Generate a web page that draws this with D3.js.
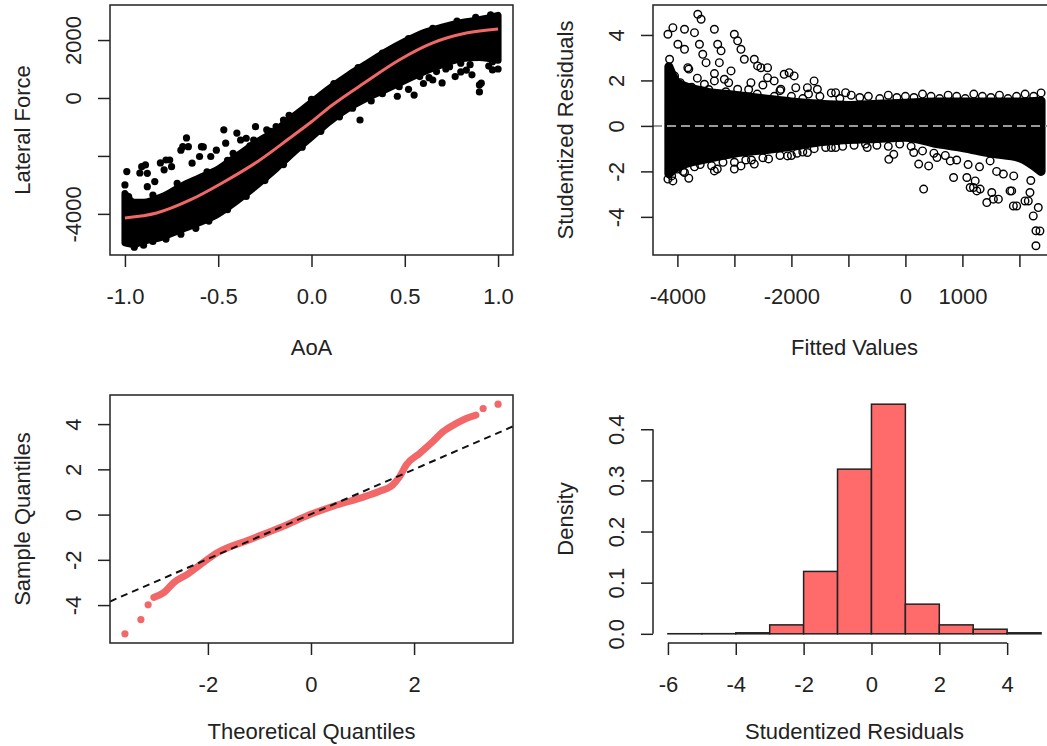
<!doctype html>
<html>
<head>
<meta charset="utf-8"/>
<title>Lateral force model diagnostics</title>
<script src="https://cdnjs.cloudflare.com/ajax/libs/d3/7.8.5/d3.min.js"></script>
<style>
body { margin: 0; background: #fff; }
svg text { font-family: "Liberation Sans", Arial, sans-serif; font-size: 22px; fill: #222; }
</style>
</head>
<body>
<svg width="1047" height="746"></svg>
<script>
// ---- panel 1: AoA vs lateral force (dense cloud as band + loose points) ----
const aoaRange = [-1, 1];
const forceRange = [-5100, 2890];
const aoaTicks = [-1, -0.5, 0, 0.5, 1];
const forceTicks = [-4000, -2000, 0, 2000];
const forceTickLabels = [-4000, 0, 2000];
const bandAoA  = [-1.0, -0.95, -0.9, -0.8, -0.7, -0.6, -0.5, -0.4, -0.3, -0.2, -0.1, 0, 0.1, 0.2, 0.3, 0.4, 0.5, 0.6, 0.7, 0.8, 0.9, 1.0];
const bandLow  = [-5000, -5050, -4950, -4800, -4550, -4300, -4000, -3550, -3050, -2500, -1900, -1350, -800, -350, 0, 300, 600, 900, 1150, 1350, 1400, 1300];
const bandHigh = [-3300, -3600, -3600, -3400, -3050, -2750, -2450, -2000, -1550, -1150, -650, -150, 350, 800, 1200, 1600, 1950, 2250, 2450, 2600, 2700, 2850];
const forceLoose = [
  [-0.99,-2540],[-1.0,-3000],[-0.98,-3400],[-0.91,-2370],[-0.88,-2600],[-0.88,-3060],[-0.84,-2885],
  [-0.79,-2480],[-0.78,-2140],[-0.75,-2370],[-0.70,-1800],[-0.69,-1680],[-0.66,-1680],[-0.64,-2250],
  [-0.59,-1680],[-0.60,-2020],[-0.54,-2020],[-0.51,-1800],[-0.46,-1560],[-0.42,-1910],[-0.38,-1450],
  [-0.35,-1390],[-0.31,-1450],[-0.30,-990],[-0.24,-1100],[-0.19,-990],[-0.15,-760],
  [-0.92,-2590],[-0.89,-2310],[-0.81,-2240],[-0.76,-2140],[-0.67,-1380],[-0.58,-1690],[-0.47,-1100],[-0.40,-1210],
  [0.26,-760],[0.46,60],[0.55,100],[0.60,500],[0.65,620],[0.70,520],[0.77,740],[0.80,900],[0.83,965],
  [0.86,800],[0.90,450],[0.90,210],[0.91,510],[0.97,970],[0.97,1250],[0.47,390],[0.58,740],[0.67,910],
  [0.74,1080],[0.80,1200],[0.40,350],[0.35,250],
  [-0.95,-5150],[-0.9,-5080],[-0.85,-4950],[-0.78,-4870],[-0.7,-4700],[-0.62,-4500],[-0.55,-4250],
  [-0.45,-3850],[-0.35,-3400],[-0.25,-2850],[-0.15,-2300],[-0.05,-1700],[0.05,-1150],[0.15,-650],
  [0.22,-350],[0.32,-100],[0.38,150],[0.52,300],[0.63,700],[0.72,1000],[0.85,1150],[0.95,1100],[1.0,1000],
  [-0.85,-3350],[-0.72,-2950],[-0.56,-2550],[-0.45,-2150],[-0.33,-1650],[-0.22,-1150],[-0.12,-600],
  [0.0,-50],[0.12,500],[0.25,1050],[0.38,1550],[0.52,2050],[0.65,2400],[0.78,2650],[0.88,2780],[0.96,2870]
];
const fitAoA   = [-1, -0.83, -0.65, -0.47, -0.29, -0.12, 0, 0.11, 0.29, 0.47, 0.65, 0.83, 1];
const fitForce = [-4140, -3970, -3520, -2900, -2200, -1400, -820, -250, 550, 1310, 1900, 2240, 2380];

// ---- panel 2: studentized residuals vs fitted ----
const fittedRange = [-4166, 2380];
const residRange = [-5.27, 4.91];
const fittedTicks = [-4000, -3000, -2000, -1000, 0, 1000, 2000];
const fittedTickLabels = [-4000, -2000, 0, 1000];
const residTicks = [-4, -2, 0, 2, 4];
const residBandFit  = [-4150, -4000, -3500, -3000, -2500, -2000, -1500, -1000, -500, 0, 500, 1000, 1500, 2000, 2380];
const residBandHigh = [2.6, 1.9, 1.5, 1.35, 1.2, 1.05, 0.95, 0.9, 0.95, 1.0, 1.05, 1.05, 1.05, 1.05, 1.1];
const residBandLow  = [-2.1, -1.8, -1.45, -1.2, -1.05, -0.9, -0.7, -0.6, -0.55, -0.5, -0.75, -0.95, -1.2, -1.4, -2.0];
const residLoose = [
  [-4166,4.03],[-4079,4.32],[-4137,2.93],[-4137,1.83],[-3991,3.59],[-3875,4.25],[-3875,3.37],[-3817,2.56],
  [-3700,4.10],[-3642,4.91],[-3584,4.69],[-3613,3.59],[-3555,3.15],[-3497,2.78],[-3526,1.83],[-3351,4.25],
  [-3293,3.59],[-3234,3.30],[-3264,2.78],[-3176,2.05],[-3001,4.03],[-2943,3.74],[-2885,3.37],[-2826,2.93],
  [-3059,2.42],[-2943,1.61],[-2651,2.93],[-2593,2.64],[-2535,2.56],[-2418,2.56],[-2418,2.12],[-2710,1.90],
  [-2127,2.27],[-2040,2.34],[-1952,2.20],[-2185,1.61],[-1923,1.68],[-1719,1.68],[-1602,1.98],[-1544,1.61],
  [-1224,1.46],[-1049,1.46],[-2302,1.98],[-3351,1.98],
  [-4166,-2.34],[-4079,-2.42],[-3875,-2.05],[-3351,-1.98],[-3001,-1.90],[-2885,-1.76],[-2651,-1.68],
  [-2069,-1.32],[-1719,-1.17],[-1398,-0.95],[-1224,-0.95],[-670,-0.95],[-291,-1.47],[-204,-1.25],
  [146,-1.17],[233,-1.68],[320,-2.78],[408,-1.76],[554,-1.39],[787,-1.54],[845,-2.27],[1136,-2.71],
  [1224,-2.42],[1253,-2.86],[1428,-3.37],[1544,-3.22],[1515,-2.93],[1719,-2.12],[1836,-2.86],[1894,-3.52],
  [2098,-3.30],[2185,-2.93],[2243,-3.96],[2290,-4.61],[2290,-5.27],[2331,-3.59],
  [1078,-2.27],[1194,-2.71],[1311,-2.78],[1631,-3.22],[1952,-3.52],[2156,-3.30],[2360,-4.62],[1865,-2.86],[1486,-1.54],
  [-1500,1.3],[-1300,1.45],[-1150,1.2],[-950,1.35],[-800,1.25],[-650,1.3],[-450,1.2],[-300,1.35],[-150,1.25],
  [0,1.3],[150,1.25],[300,1.4],[450,1.3],[600,1.2],[750,1.35],[900,1.3],[1050,1.2],[1200,1.4],[1350,1.3],
  [1500,1.25],[1650,1.35],[1800,1.2],[1950,1.3],[2100,1.4],[2250,1.3],[2380,1.45],
  [-1300,-0.95],[-1100,-0.9],[-900,-0.85],[-700,-0.8],[-500,-0.85],[-300,-0.9],[-100,-0.8],[100,-0.9],
  [300,-1.1],[500,-1.2],[700,-1.3],[900,-1.5],[1100,-1.7],[1300,-1.8],[1600,-2.0],[1900,-2.2],[2200,-2.4],
  [-4100,-2.2],[-3900,-2.0],[-3700,-1.8],[-3400,-1.75],[-3200,-1.6],[-2800,-1.5],[-2500,-1.4],[-2200,-1.3],
  [-1900,-1.2],[-1600,-1.0],
  [-4050,2.2],[-3950,1.9],[-3800,2.5],[-3750,1.7],[-3650,2.1],[-3450,1.6],[-3350,2.3],[-3150,1.5],
  [-3100,1.9],[-2750,1.6],[-2600,1.4],[-2500,1.8],[-2300,1.3],[-2200,1.55],[-2000,1.3],[-1800,1.2],[-1700,1.4],
  [-4000,-1.9],[-3800,-2.3],[-3600,-1.7],[-3300,-1.9],[-3000,-1.6],[-2700,-1.5],[-2400,-1.45],[-2000,-1.3],[-1800,-1.15]
];

// ---- panel 3: normal QQ plot ----
const qqTheory = [-3.05,-2.85,-2.66,-2.40,-2.14,-1.82,-1.18,-0.53,-0.02,0.43,0.95,1.33,1.59,1.72,1.85,2.11,2.36,2.56,2.82,3.01,3.20];
const qqSample = [-3.66,-3.44,-3.00,-2.64,-2.20,-1.69,-1.10,-0.51,0,0.37,0.73,1.03,1.32,1.68,2.2,2.71,3.22,3.66,4.03,4.25,4.40];
const qqTails = [[-3.61,-5.27],[-3.30,-4.64],[-3.16,-3.99],[3.34,4.69],[3.63,4.88]];
const qqLineIntercept = 0.02, qqLineSlope = 0.99;
const qqXTicks = [-2, 0, 2];
const qqYTicks = [-4, -2, 0, 2, 4];

// ---- panel 4: histogram of studentized residuals ----
const binEdges = [-6, -5, -4, -3, -2, -1, 0, 1, 2, 3, 4, 5];
const densities = [0.0002, 0.0003, 0.002, 0.0175, 0.122, 0.322, 0.449, 0.058, 0.0175, 0.009, 0.002];
const histXTicks = [-6, -4, -2, 0, 2, 4];
const histYTicks = [0, 0.1, 0.2, 0.3, 0.4];

const red = "#F26868", histRed = "#FF6A6A", ink = "#222";
const svg = d3.select("svg");

function expand(r) {
  const pad = (r[1] - r[0]) * 0.04;
  return [r[0] - pad, r[1] + pad];
}

function makePanel(id, box, xDom, yDom) {
  const x = d3.scaleLinear().domain(expand(xDom)).range([box.l, box.r]);
  const y = d3.scaleLinear().domain(expand(yDom)).range([box.b, box.t]);
  const g = svg.append("g");
  svg.append("clipPath").attr("id", id).append("rect")
    .attr("x", box.l).attr("y", box.t).attr("width", box.r - box.l).attr("height", box.b - box.t);
  const plot = g.append("g").attr("clip-path", "url(#" + id + ")");
  return { x, y, g, plot, box };
}

function xAxis(p, ticks, shown, fmt, at) {
  const ax = p.g.append("g").attr("transform", "translate(0," + at + ")")
    .call(d3.axisBottom(p.x).tickValues(ticks).tickSize(12).tickSizeOuter(0)
      .tickFormat(d => shown.includes(d) ? fmt(d) : ""));
  ax.attr("font-size", null).attr("font-family", null);
  ax.select(".domain").remove();
  ax.selectAll("line").attr("stroke", ink).attr("stroke-width", 1.5);
  ax.selectAll("text").attr("y", 41).attr("dy", "0.35em").attr("fill", ink);
  return ax;
}

function yAxis(p, ticks, shown, fmt, at) {
  const ax = p.g.append("g").attr("transform", "translate(" + at + ",0)")
    .call(d3.axisLeft(p.y).tickValues(ticks).tickSize(12).tickSizeOuter(0)
      .tickFormat(d => shown.includes(d) ? fmt(d) : ""));
  ax.attr("font-size", null).attr("font-family", null);
  ax.select(".domain").remove();
  ax.selectAll("line").attr("stroke", ink).attr("stroke-width", 1.5);
  ax.selectAll("text").attr("x", 0).attr("dy", "0.35em").attr("text-anchor", "middle")
    .attr("transform", "translate(-37,0) rotate(-90)").attr("fill", ink);
  return ax;
}

function titles(p, xt, yt, xOff) {
  const b = p.box;
  p.g.append("text").attr("x", (b.l + b.r) / 2).attr("y", b.b + xOff).attr("dy", "0.35em")
    .attr("text-anchor", "middle").text(xt);
  p.g.append("text").attr("transform", "translate(" + (b.l - 88) + "," + ((b.t + b.b) / 2) + ") rotate(-90)")
    .attr("dy", "0.35em").attr("text-anchor", "middle").text(yt);
}

function frame(p) {
  const b = p.box;
  p.g.append("rect").attr("x", b.l).attr("y", b.t).attr("width", b.r - b.l).attr("height", b.b - b.t)
    .attr("fill", "none").attr("stroke", ink).attr("stroke-width", 1.5);
}

// Panel 1
const p1 = makePanel("c1", { l: 110, r: 513, t: 5, b: 255 }, aoaRange, forceRange);
const band1 = bandAoA.map((a, i) => ({ a, lo: bandLow[i], hi: bandHigh[i] }));
p1.plot.append("path").datum(band1)
  .attr("d", d3.area().x(d => p1.x(d.a)).y0(d => p1.y(d.lo)).y1(d => p1.y(d.hi)).curve(d3.curveMonotoneX))
  .attr("fill", "#000").attr("stroke", "#000").attr("stroke-width", 7).attr("stroke-linejoin", "round");
p1.plot.selectAll("circle.pt").data(forceLoose).enter().append("circle")
  .attr("cx", d => p1.x(d[0])).attr("cy", d => p1.y(d[1])).attr("r", 3.6).attr("fill", "#000");
p1.plot.append("path").datum(fitAoA.map((a, i) => [a, fitForce[i]]))
  .attr("d", d3.line().x(d => p1.x(d[0])).y(d => p1.y(d[1])).curve(d3.curveMonotoneX))
  .attr("fill", "none").attr("stroke", red).attr("stroke-width", 3);
frame(p1);
xAxis(p1, aoaTicks, aoaTicks, d => d.toFixed(1), 255);
yAxis(p1, forceTicks, forceTickLabels, d => String(d), 110);
titles(p1, "AoA", "Lateral Force", 92);

// Panel 2
const p2 = makePanel("c2", { l: 653, r: 1056, t: 5, b: 255 }, fittedRange, residRange);
const band2 = residBandFit.map((f, i) => ({ f, lo: residBandLow[i], hi: residBandHigh[i] }));
p2.plot.append("path").datum(band2)
  .attr("d", d3.area().x(d => p2.x(d.f)).y0(d => p2.y(d.lo)).y1(d => p2.y(d.hi)).curve(d3.curveMonotoneX))
  .attr("fill", "#000").attr("stroke", "#000").attr("stroke-width", 9).attr("stroke-linejoin", "round");
p2.plot.selectAll("circle.pt").data(residLoose).enter().append("circle")
  .attr("cx", d => p2.x(d[0])).attr("cy", d => p2.y(d[1])).attr("r", 3.8)
  .attr("fill", "none").attr("stroke", "#000").attr("stroke-width", 1.4);
p2.plot.append("line").attr("x1", p2.box.l).attr("x2", p2.box.r).attr("y1", p2.y(0)).attr("y2", p2.y(0))
  .attr("stroke", "#9a9a9a").attr("stroke-width", 2).attr("stroke-dasharray", "9,5");
frame(p2);
xAxis(p2, fittedTicks, fittedTickLabels, d => String(d), 255);
yAxis(p2, residTicks, residTicks, d => String(d), 653);
titles(p2, "Fitted Values", "Studentized Residuals", 92);

// Panel 3
const allTheory = qqTheory.concat(qqTails.map(d => d[0]));
const allSample = qqSample.concat(qqTails.map(d => d[1]));
const p3 = makePanel("c3", { l: 110, r: 513, t: 395, b: 643 }, d3.extent(allTheory), d3.extent(allSample));
p3.plot.append("path").datum(qqTheory.map((t, i) => [t, qqSample[i]]))
  .attr("d", d3.line().x(d => p3.x(d[0])).y(d => p3.y(d[1])).curve(d3.curveMonotoneX))
  .attr("fill", "none").attr("stroke", red).attr("stroke-width", 7)
  .attr("stroke-linecap", "round").attr("stroke-linejoin", "round");
p3.plot.selectAll("circle.pt").data(qqTails).enter().append("circle")
  .attr("cx", d => p3.x(d[0])).attr("cy", d => p3.y(d[1])).attr("r", 3.6).attr("fill", red);
const qx = p3.x.domain();
p3.plot.append("line")
  .attr("x1", p3.x(qx[0])).attr("y1", p3.y(qqLineIntercept + qqLineSlope * qx[0]))
  .attr("x2", p3.x(qx[1])).attr("y2", p3.y(qqLineIntercept + qqLineSlope * qx[1]))
  .attr("stroke", "#111").attr("stroke-width", 2).attr("stroke-dasharray", "7,5");
frame(p3);
xAxis(p3, qqXTicks, qqXTicks, d => String(d), 643);
yAxis(p3, qqYTicks, qqYTicks, d => String(d), 110);
titles(p3, "Theoretical Quantiles", "Sample Quantiles", 88);

// Panel 4
const p4 = makePanel("c4", { l: 653, r: 1056, t: 395, b: 643 },
  [binEdges[0], binEdges[binEdges.length - 1]], [0, d3.max(densities)]);
p4.g.selectAll("rect.bar").data(densities).enter().append("rect")
  .attr("x", (d, i) => p4.x(binEdges[i])).attr("width", (d, i) => p4.x(binEdges[i + 1]) - p4.x(binEdges[i]))
  .attr("y", d => p4.y(d)).attr("height", d => p4.y(0) - p4.y(d))
  .attr("fill", histRed).attr("stroke", ink).attr("stroke-width", 1.5);
xAxis(p4, histXTicks, histXTicks, d => String(d), 643);
p4.g.append("line").attr("x1", p4.x(histXTicks[0])).attr("x2", p4.x(histXTicks[histXTicks.length - 1]))
  .attr("y1", 643).attr("y2", 643).attr("stroke", ink).attr("stroke-width", 1.5);
yAxis(p4, histYTicks, histYTicks, d => d.toFixed(1), 653);
p4.g.append("line").attr("x1", 653).attr("x2", 653)
  .attr("y1", p4.y(histYTicks[0])).attr("y2", p4.y(histYTicks[histYTicks.length - 1]))
  .attr("stroke", ink).attr("stroke-width", 1.5);
titles(p4, "Studentized Residuals", "Density", 88);
</script>
</body>
</html>
